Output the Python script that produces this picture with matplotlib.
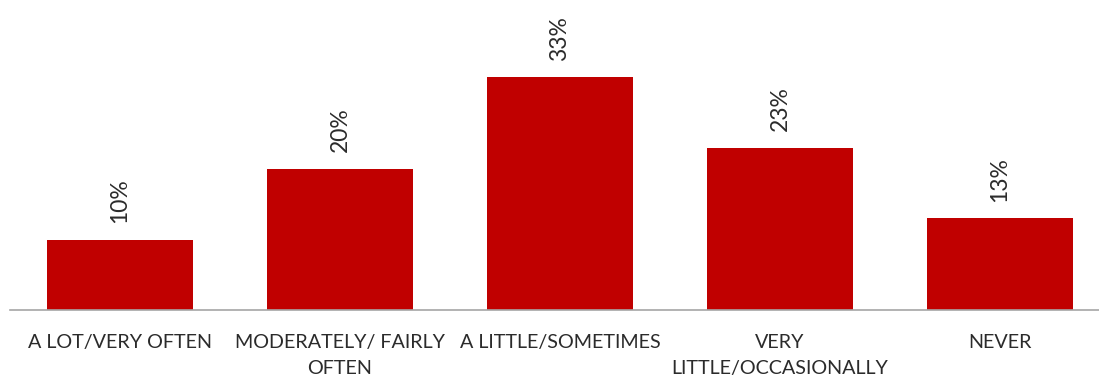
import matplotlib.pyplot as plt
import numpy as np

# frequency of responses
categorias = ['A LOT/VERY OFTEN', 'MODERATELY/ FAIRLY\nOFTEN', 'A LITTLE/SOMETIMES',
              'VERY\nLITTLE/OCCASIONALLY', 'NEVER']
valores = [10, 20, 33, 23, 13]

plt.rcParams['font.family'] = ['Lato', 'DejaVu Sans']

fig = plt.figure(figsize=(10.99, 3.81), dpi=100)
ax = fig.add_axes([10/1099, 71/381, 1089/1099, 282/381])

x = np.arange(len(categorias))
bars = ax.bar(x, valores, width=0.665, color='#C00000')

for b, v in zip(bars, valores):
    ax.annotate(f'{v}%', (b.get_x() + b.get_width()/2, v), xytext=(0, 12),
                textcoords='offset points', rotation=90, ha='center', va='bottom',
                fontsize=16.5, color='#2b2b2b')

ax.set_xlim(-0.5, -0.5 + 1089/220)
ax.set_ylim(0, 40)
ax.set_xticks(x)
ax.set_xticklabels(categorias, fontsize=14.2, color='#2b2b2b', linespacing=1.7)
ax.tick_params(axis='x', length=0, pad=17)
ax.set_yticks([])
for s in ['top', 'right', 'left']:
    ax.spines[s].set_visible(False)
ax.spines['bottom'].set_color('#A6A6A6')
ax.spines['bottom'].set_linewidth(1.2)

fig.savefig('out.png', dpi=100)
